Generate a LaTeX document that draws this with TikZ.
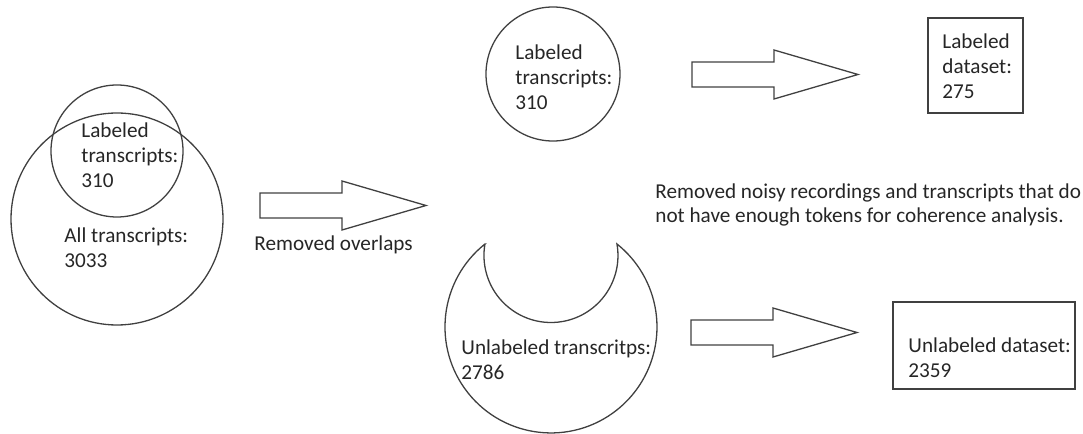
\documentclass[tikz,border=0pt]{standalone}
\usepackage{fontspec}
\setmainfont{Carlito}
\begin{document}
\begin{tikzpicture}[x=0.5pt,y=0.5pt,
  outline/.style={draw=black!75,line width=0.65pt},
  ring/.style={outline,circle,inner sep=0pt},
  frame/.style={outline,rectangle,inner sep=0pt},
  txt/.style={anchor=west,align=left,inner sep=0pt,text=black!85,
    font=\fontsize{10.6}{12.4}\selectfont},
  blockarrow/.pic={\draw[outline,line join=miter]
    (0,-12.5) -- (82,-12.5) -- (82,-24.5) -- (166,0) -- (82,24.5)
    -- (82,12.5) -- (0,12.5) -- cycle;}]
\useasboundingbox (0,0) rectangle (1083,434);

% all transcripts and the labeled subset
\node[ring,minimum size=106pt] (all) at (117,215) {};
\node[ring,minimum size=66pt] (lab) at (117,283) {};
\node[txt] (labtxt) at (81,279) {Labeled\\transcripts:\\310};
\node[txt] (alltxt) at (64,186.5) {All transcripts:\\3033};

% first step
\pic at (260,228.5) {blockarrow};
\node[txt] (ovl) at (254,189) {Removed overlaps};

% labeled part after removing overlaps
\node[ring,minimum size=67pt] (lab2) at (553,360) {};
\node[txt] (lab2txt) at (515,357) {Labeled\\transcripts:\\310};

% unlabeled part: outer circle with the labeled circle cut away
\coordinate (lhorn) at (485,190);
\draw[outline] (lhorn) arc[start angle=128.5,end angle=411.5,radius=106]
  arc[start angle=9.9,end angle=-189.9,radius=67] -- cycle;
\node[txt] (unltxt) at (461,74.5) {Unlabeled transcritps:\\2786};

% second step
\pic at (692,359.5) {blockarrow};
\pic at (691,101.5) {blockarrow};
\node[txt] (noise) at (655,229) {Removed noisy recordings and transcripts that do\\not have enough tokens for coherence analysis.};

% resulting datasets
\node[frame,minimum width=47.5pt,minimum height=47.5pt] (labset) at (975.5,368.5) {};
\node[txt] (labsettxt) at (942,367.5) {Labeled\\dataset:\\275};
\node[frame,minimum width=91pt,minimum height=43.5pt] (unlset) at (984,88.5) {};
\node[txt] (unlsettxt) at (908,76.5) {Unlabeled dataset:\\2359};
\end{tikzpicture}
\end{document}
